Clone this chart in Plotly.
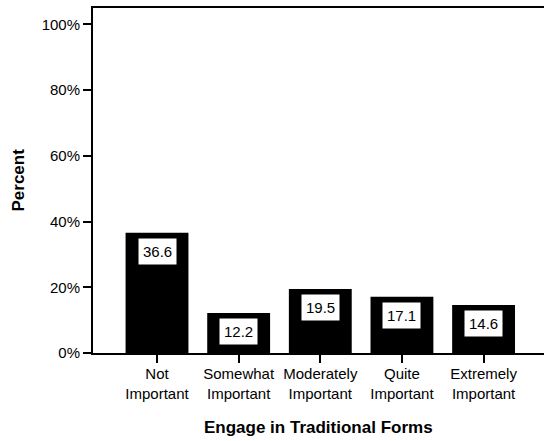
import plotly.graph_objects as go

categories = ["Not<br>Important", "Somewhat<br>Important", "Moderately<br>Important",
              "Quite<br>Important", "Extremely<br>Important"]
values = [36.6, 12.2, 19.5, 17.1, 14.6]
y_ticks = [0, 20, 40, 60, 80, 100]
y_tick_labels = ["0%", "20%", "40%", "60%", "80%", "100%"]
x_title = "Engage in Traditional Forms"
y_title = "Percent"

FONT = "Liberation Sans, Arial, sans-serif"
xs = list(range(len(categories)))

fig = go.Figure()
fig.add_trace(go.Bar(x=xs, y=values, marker=dict(color="black", line=dict(width=0)),
                     width=0.77, hoverinfo="skip"))

for x, v in zip(xs, values):
    fig.add_annotation(x=x, y=v, text=f"{v:.1f}", showarrow=False, yanchor="top",
                       yshift=-5, bgcolor="white", borderpad=4,
                       font=dict(family=FONT, size=15, color="black"))

fig.add_annotation(xref="paper", yref="paper", x=0.5, y=0, yanchor="middle",
                   yshift=-74, text=f"<b>{x_title}</b>", showarrow=False,
                   font=dict(family=FONT, size=17, color="black"))
fig.add_annotation(xref="paper", yref="paper", x=0, y=0.5, xanchor="center",
                   xshift=-75, textangle=-90, text=f"<b>{y_title}</b>", showarrow=False,
                   font=dict(family=FONT, size=17, color="black"))

fig.update_layout(
    width=544, height=441,
    margin=dict(l=93, r=0, t=8, b=88, autoexpand=False),
    plot_bgcolor="white", paper_bgcolor="white",
    showlegend=False,
    font=dict(family=FONT, size=15, color="black"),
    xaxis=dict(range=[-0.784, 4.74], tickmode="array", tickvals=xs, ticktext=categories,
               showline=True, linecolor="black", linewidth=2, mirror=True,
               ticks="outside", ticklen=8, tickwidth=2, tickcolor="black",
               showgrid=False, zeroline=False, automargin=False,
               ticklabelstandoff=-2,
               tickfont=dict(family=FONT, size=15)),
    yaxis=dict(range=[0, 105], tickmode="array", tickvals=y_ticks, ticktext=y_tick_labels,
               showline=True, linecolor="black", linewidth=2,
               ticks="outside", ticklen=8, tickwidth=2, tickcolor="black",
               showgrid=False, zeroline=False, automargin=False,
               tickfont=dict(family=FONT, size=15)),
)

fig.write_html("out.html", config={"displayModeBar": False},
               post_script="document.body.style.margin='0';document.body.style.overflow='hidden';")
